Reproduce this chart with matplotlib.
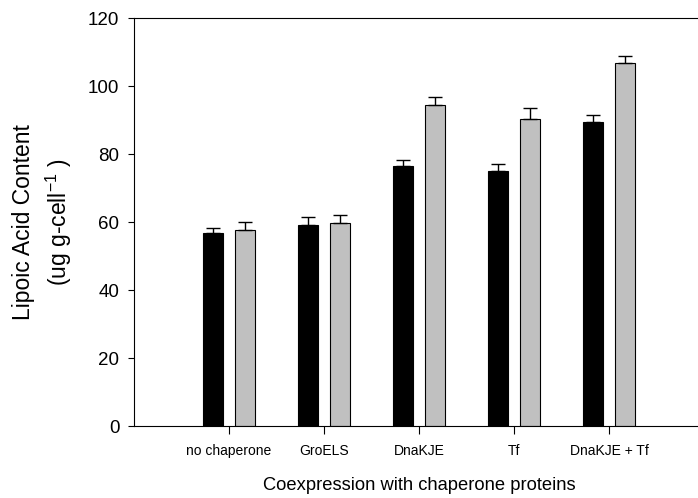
import matplotlib
matplotlib.use('Agg')
import matplotlib.pyplot as plt
import numpy as np

plt.rcParams['font.family'] = ['Liberation Sans', 'DejaVu Sans']
plt.rcParams['mathtext.fontset'] = 'custom'
plt.rcParams['mathtext.rm'] = 'Liberation Sans'
plt.rcParams['mathtext.it'] = 'Liberation Sans'

# data
categories = ['no chaperone', 'GroELS', 'DnaKJE', 'Tf', 'DnaKJE + Tf']
black_vals = [56.9, 59.1, 76.7, 75.2, 89.6]
black_err = [1.4, 2.5, 1.5, 2.0, 2.0]
gray_vals = [57.8, 59.8, 94.4, 90.35, 106.8]
gray_err = [2.3, 2.5, 2.5, 3.15, 2.0]

fig = plt.figure(figsize=(6.98, 4.98), dpi=100)
# right edge of the box sits just outside the picture
ax = fig.add_axes([0.192, 0.1436, 0.8166, 0.8197])

x = np.arange(len(categories))
off = 0.17
w = 0.215
ax.bar(x - off, black_vals, w, color='black', edgecolor='black', linewidth=0.8, zorder=2)
ax.bar(x + off, gray_vals, w, color='#c0c0c0', edgecolor='black', linewidth=0.8, zorder=2)
ax.errorbar(x - off, black_vals, yerr=[np.zeros(len(x)), black_err], fmt='none',
            ecolor='black', elinewidth=1, capsize=4.7, capthick=1, zorder=3)
ax.errorbar(x + off, gray_vals, yerr=[np.zeros(len(x)), gray_err], fmt='none',
            ecolor='black', elinewidth=1, capsize=4.7, capthick=1, zorder=3)

ax.set_xlim(-1, 5)
ax.set_ylim(0, 120)
ax.set_yticks(range(0, 121, 20))
ax.set_xticks(x)
ax.set_xticklabels(categories, fontsize=10)
ax.tick_params(axis='y', labelsize=13.5, direction='out', length=4.5, width=0.8, pad=6)
ax.tick_params(axis='x', direction='out', length=5.5, width=0.8, pad=7)
for s in ax.spines.values():
    s.set_linewidth(0.8)

ax.set_xlabel('Coexpression with chaperone proteins', fontsize=13.2, labelpad=14)
ax.set_ylabel('Lipoic Acid Content\n(ug g-cell$^{-1}$ )', fontsize=16.5,
              labelpad=10, linespacing=1.4)

fig.savefig('out.png', dpi=100)
